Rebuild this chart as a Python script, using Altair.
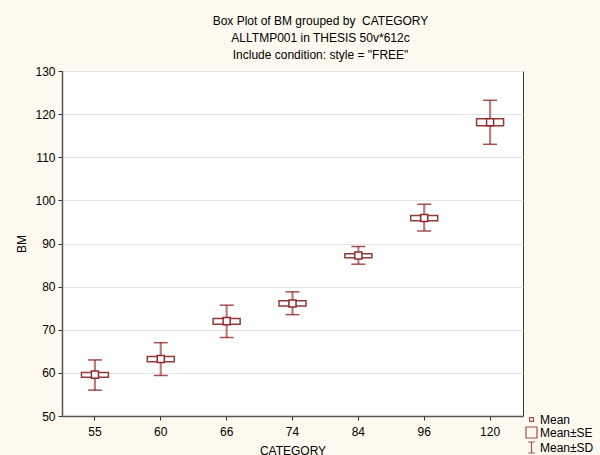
import altair as alt
import pandas as pd

categories = [55, 60, 66, 74, 84, 96, 120]
mean = [59.6, 63.2, 72.0, 76.1, 87.2, 95.9, 118.1]
se_lo = [59.0, 62.6, 71.3, 75.5, 86.7, 95.3, 117.3]
se_hi = [60.1, 63.8, 72.6, 76.7, 87.6, 96.5, 118.9]
sd_lo = [56.0, 59.4, 68.2, 73.5, 85.2, 92.9, 113.0]
sd_hi = [63.0, 67.0, 75.7, 78.8, 89.3, 99.1, 123.2]
legend_items = ["Mean", "Mean±SE", "Mean±SD"]
title_lines = [
    "Box Plot of BM grouped by\u00a0\u00a0CATEGORY",
    "ALLTMP001 in THESIS 50v*612c",
    'Include condition: style = "FREE"',
]

df = pd.DataFrame({
    "CATEGORY": categories, "mean": mean, "se_lo": se_lo, "se_hi": se_hi,
    "sd_lo": sd_lo, "sd_hi": sd_hi,
})
leg = pd.DataFrame({"item": legend_items})

FONT = "Liberation Sans"
DARK = "#7a0a0a"
MID = "#8e2a2a"

xenc = alt.X("CATEGORY:O", scale=alt.Scale(paddingInner=0, paddingOuter=0),
             axis=alt.Axis(title="CATEGORY", labelAngle=0, tickSize=4, labelPadding=6,
                           titlePadding=8, grid=False, domainColor="#555", domainWidth=1.5,
                           tickColor="#333"))
yscale = alt.Scale(domain=[50, 130], nice=False, zero=False)
yaxis = alt.Axis(title="BM", values=list(range(50, 131, 10)), tickSize=4, labelPadding=3,
                 titlePadding=6, grid=True, gridColor="#e4e4e4", domainColor="#555",
                 domainWidth=1.5, tickColor="#333")

base = alt.Chart(df)

whisker = base.mark_rule(color="#a85050", strokeWidth=2.2, opacity=0.75).encode(
    x=xenc, y=alt.Y("sd_lo:Q", scale=yscale, axis=yaxis), y2="sd_hi:Q")
cap_lo = base.mark_tick(color=DARK, size=14, thickness=1.5, orient="horizontal").encode(
    x=xenc, y=alt.Y("sd_lo:Q", scale=yscale))
cap_hi = base.mark_tick(color=DARK, size=14, thickness=1.5, orient="horizontal").encode(
    x=xenc, y=alt.Y("sd_hi:Q", scale=yscale))
box = base.mark_bar(fill="white", stroke="#943838", strokeWidth=1.5, width=27).encode(
    x=xenc, y=alt.Y("se_lo:Q", scale=yscale), y2="se_hi:Q")
pt = base.mark_point(shape="square", filled=False, fill="white", color=MID, size=50,
                     strokeWidth=1.5, opacity=1).encode(
    x=xenc, y=alt.Y("mean:Q", scale=yscale))

legend_layer = alt.Chart(leg).mark_point(clip=True, filled=False, color=DARK, strokeWidth=1.2).encode(
    x=alt.value(0), y=alt.value(-60),
    shape=alt.Shape("item:N", scale=alt.Scale(
        domain=legend_items,
        range=["M-0.35,-0.35H0.35V0.35H-0.35Z", "M-1,-1H1V1H-1Z",
               "M-0.6,-1H0.6M0,-1V1M-0.6,1H0.6"]),
        legend=alt.Legend(title=None, orient="none", legendX=463, legendY=342,
                          symbolSize=121, rowPadding=-3, labelFontSize=12, labelFont=FONT,
                          labelColor="#000", symbolStrokeColor=DARK, symbolStrokeWidth=1.2,
                          symbolFillColor="white", labelOffset=2)),
)

chart = alt.layer(whisker, box, pt, cap_lo, cap_hi, legend_layer).properties(
    width=461, height=345,
    title=alt.TitleParams(text=title_lines, fontSize=12, fontWeight="normal", font=FONT,
                          anchor="middle", lineHeight=17, offset=3, dx=28, color="#000"),
    autosize=alt.AutoSizeParams(type="none"),
    padding={"left": 62, "top": 71, "right": 77, "bottom": 39},
    background="#FDF9EF",
).configure_view(
    fill="white", stroke="#333", strokeWidth=1
).configure_axis(
    labelFont=FONT, labelFontSize=12, labelColor="#000",
    titleFont=FONT, titleFontSize=12, titleFontWeight="normal", titleColor="#000",
)

chart.save("out.html", embed_options={"renderer": "svg", "actions": False})
